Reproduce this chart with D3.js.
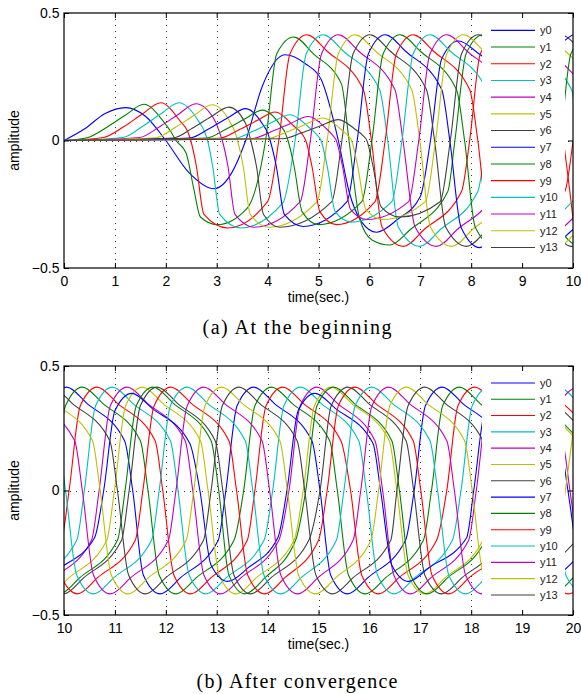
<!DOCTYPE html>
<html>
<head>
<meta charset="utf-8">
<script src="https://cdn.jsdelivr.net/npm/d3@7"></script>
<style>
  body { margin: 0; background: #fff; }
</style>
</head>
<body>
<svg id="fig" width="581" height="694" font-family="'Liberation Sans', Arial, sans-serif"></svg>
<script>
// series names, tick values
const seriesNames = ["y0","y1","y2","y3","y4","y5","y6","y7","y8","y9","y10","y11","y12","y13"];
const xTicksA = [0,1,2,3,4,5,6,7,8,9,10];
const xTicksB = [10,11,12,13,14,15,16,17,18,19,20];
const yTicks = [-0.5, 0, 0.5];

// (a) at the beginning, [time, amplitude]
const a_y0 = [[0,0],[0.4,0.045],[0.8,0.105],[1.21,0.129],[1.6,0.095],[2.0,0],[2.45,-0.125],[2.95,-0.189],[3.3,-0.125],[3.57,0],[3.9,0.215],[4.34,0.336],[4.75,0.3],[5.05,0.24],[5.39,0],[5.6,-0.2],[5.85,-0.32],[6.14,-0.36],[6.55,-0.31],[7.0,-0.22],[7.2,0],[7.42,0.32],[7.75,0.39],[8.15,0.34],[8.89,0.2],[9.05,0],[9.27,-0.34],[9.6,-0.41],[10.0,-0.35],[10.5,-0.3]];
const a_y1 = [[0,0],[0.47,0.012],[0.85,0.053],[1.21,0.1],[1.57,0.142],[1.96,0.073],[2.1,0.034],[2.2,0],[2.4,-0.05],[2.55,-0.19],[2.68,-0.3],[3.01,-0.33],[3.6,-0.265],[3.96,0],[4.18,0.34],[4.51,0.406],[4.9,0.34],[5.45,0.222],[5.6,0],[5.8,-0.3],[6.05,-0.39],[6.4,-0.41],[6.8,-0.35],[7.54,-0.2],[7.68,0],[7.9,0.34],[8.23,0.415],[8.63,0.35],[9.37,0.2],[9.53,0],[9.75,-0.34],[10.08,-0.415]];
const a_y2 = [[0,0],[0.78,0.012],[1.18,0.055],[1.54,0.104],[1.9,0.148],[2.29,0.074],[2.43,0.035],[2.49,0],[2.6,-0.1],[2.75,-0.29],[3.21,-0.343],[4.0,-0.24],[4.22,0],[4.44,0.34],[4.77,0.415],[5.17,0.35],[5.88,0.2],[6.04,0],[6.25,-0.34],[6.67,-0.415],[7.07,-0.35],[7.81,-0.2],[7.97,0],[8.18,0.34],[8.51,0.415],[8.91,0.35],[9.65,0.2],[9.81,0],[10.02,-0.34]];
const a_y3 = [[0,0],[1.16,0.012],[1.54,0.055],[1.9,0.104],[2.26,0.148],[2.65,0.074],[2.76,0.035],[2.82,0],[2.92,-0.1],[3.06,-0.29],[3.47,-0.343],[4.3,-0.245],[4.54,0],[4.76,0.34],[5.09,0.415],[5.49,0.35],[6.2,0.2],[6.36,0],[6.57,-0.34],[6.99,-0.415],[7.39,-0.35],[8.13,-0.2],[8.29,0],[8.5,0.34],[8.83,0.415],[9.23,0.35],[9.97,0.2],[10.1,0]];
const a_y4 = [[0,0],[1.49,0.012],[1.87,0.053],[2.23,0.1],[2.59,0.144],[2.98,0.072],[3.05,0.035],[3.11,0],[3.22,-0.1],[3.36,-0.29],[3.73,-0.34],[4.64,-0.24],[4.84,0],[5.06,0.34],[5.39,0.415],[5.79,0.35],[6.5,0.2],[6.66,0],[6.9,-0.34],[7.32,-0.415],[7.72,-0.35],[8.46,-0.2],[8.61,0],[8.82,0.34],[9.15,0.415],[9.55,0.35],[10.29,0.2]];
const a_y5 = [[0,0],[1.81,0.011],[2.19,0.052],[2.55,0.098],[2.91,0.14],[3.27,0.07],[3.36,0.033],[3.41,0],[3.52,-0.1],[3.66,-0.29],[4.03,-0.34],[4.97,-0.24],[5.17,0],[5.39,0.34],[5.72,0.415],[6.12,0.35],[6.83,0.2],[6.99,0],[7.2,-0.34],[7.62,-0.415],[8.02,-0.35],[8.76,-0.2],[8.91,0],[9.12,0.34],[9.45,0.415],[9.85,0.35],[10.59,0.2]];
const a_y6 = [[0,0],[2.14,0.01],[2.52,0.048],[2.88,0.092],[3.24,0.131],[3.56,0.07],[3.63,0.03],[3.67,0],[3.78,-0.1],[3.92,-0.29],[4.24,-0.34],[5.26,-0.24],[5.46,0],[5.68,0.34],[6.01,0.415],[6.41,0.35],[7.12,0.2],[7.28,0],[7.5,-0.34],[7.91,-0.415],[8.31,-0.35],[9.05,-0.2],[9.2,0],[9.42,0.34],[9.75,0.415],[10.15,0.35]];
const a_y7 = [[0,0],[2.47,0.01],[2.85,0.046],[3.21,0.088],[3.57,0.125],[3.9,0.065],[4.0,0.03],[4.05,0],[4.17,-0.1],[4.33,-0.29],[4.7,-0.337],[5.56,-0.24],[5.76,0],[5.98,0.34],[6.31,0.415],[6.71,0.35],[7.42,0.2],[7.58,0],[7.8,-0.34],[8.17,-0.42],[8.57,-0.35],[9.31,-0.2],[9.46,0],[9.67,0.34],[10.0,0.415]];
const a_y8 = [[0,0],[2.8,0.01],[3.18,0.044],[3.54,0.083],[3.9,0.119],[4.25,0.06],[4.35,0.028],[4.4,0],[4.52,-0.1],[4.68,-0.28],[5.0,-0.33],[5.85,-0.24],[6.05,0],[6.27,0.34],[6.6,0.415],[7.0,0.35],[7.71,0.2],[7.87,0],[8.08,-0.34],[8.45,-0.415],[8.85,-0.35],[9.59,-0.2],[9.75,0],[9.96,0.34],[10.3,0.415]];
const a_y9 = [[0,0],[3.05,0.009],[3.43,0.041],[3.79,0.078],[4.15,0.112],[4.52,0.056],[4.68,0.025],[4.75,0],[4.87,-0.1],[5.03,-0.28],[5.35,-0.33],[6.11,-0.24],[6.31,0],[6.53,0.34],[6.86,0.415],[7.26,0.35],[7.97,0.2],[8.13,0],[8.34,-0.34],[8.7,-0.415],[9.1,-0.35],[9.84,-0.2],[10.0,0]];
const a_y10 = [[0,0],[3.34,0.008],[3.72,0.037],[4.08,0.071],[4.44,0.101],[4.82,0.05],[4.97,0.022],[5.05,0],[5.17,-0.1],[5.33,-0.28],[5.65,-0.32],[6.44,-0.24],[6.64,0],[6.86,0.34],[7.19,0.415],[7.59,0.35],[8.3,0.2],[8.46,0],[8.67,-0.34],[9.03,-0.415],[9.43,-0.35],[10.17,-0.2]];
const a_y11 = [[0,0],[3.7,0.008],[4.08,0.035],[4.44,0.066],[4.8,0.094],[5.15,0.047],[5.28,0.02],[5.35,0],[5.47,-0.1],[5.63,-0.27],[5.95,-0.31],[6.77,-0.24],[6.97,0],[7.19,0.34],[7.52,0.415],[7.92,0.35],[8.63,0.2],[8.79,0],[9.0,-0.34],[9.36,-0.415],[9.76,-0.35],[10.5,-0.2]];
const a_y12 = [[0,0],[3.99,0.007],[4.37,0.033],[4.73,0.062],[5.09,0.088],[5.44,0.044],[5.58,0.019],[5.65,0],[5.77,-0.1],[5.93,-0.27],[6.27,-0.31],[7.1,-0.24],[7.3,0],[7.52,0.34],[7.85,0.415],[8.25,0.35],[8.96,0.2],[9.12,0],[9.33,-0.34],[9.69,-0.415],[10.09,-0.35]];
const a_y13 = [[0,0],[4.29,0.007],[4.67,0.03],[5.03,0.057],[5.39,0.082],[5.74,0.041],[5.88,0.018],[5.95,0],[6.07,-0.1],[6.23,-0.26],[6.6,-0.3],[7.39,-0.24],[7.59,0],[7.81,0.34],[8.14,0.415],[8.54,0.35],[9.25,0.2],[9.41,0],[9.62,-0.34],[9.98,-0.415],[10.38,-0.35]];

// (b) after convergence, [time, amplitude]
const b_y0 = [[8.21,-0.415],[8.61,-0.35],[9.35,-0.2],[9.51,0],[9.72,0.34],[10.05,0.415],[10.45,0.35],[11.19,0.2],[11.35,0],[11.56,-0.34],[11.89,-0.415],[12.29,-0.35],[13.03,-0.2],[13.18,0],[13.4,0.34],[13.73,0.415],[14.13,0.35],[14.87,0.2],[15.03,0],[15.24,-0.34],[15.57,-0.415],[15.97,-0.35],[16.71,-0.2],[16.88,0],[17.1,0.34],[17.43,0.415],[17.83,0.35],[18.57,0.2],[18.73,0],[18.94,-0.34],[19.27,-0.415],[19.67,-0.35],[20.41,-0.2]];
const b_y1 = [[7.97,0],[8.19,-0.34],[8.52,-0.415],[8.92,-0.35],[9.66,-0.2],[9.81,0],[10.03,0.34],[10.36,0.415],[10.76,0.35],[11.5,0.2],[11.65,0],[11.87,-0.34],[12.2,-0.415],[12.6,-0.35],[13.34,-0.2],[13.53,0],[13.75,0.34],[14.08,0.415],[14.48,0.35],[15.22,0.2],[15.37,0],[15.59,-0.34],[15.92,-0.415],[16.32,-0.35],[17.06,-0.2],[17.22,0],[17.44,0.34],[17.77,0.415],[18.17,0.35],[18.91,0.2],[19.06,0],[19.28,-0.34],[19.61,-0.415],[20.01,-0.35],[20.75,-0.2]];
const b_y2 = [[8.26,0],[8.48,-0.34],[8.81,-0.415],[9.21,-0.35],[9.95,-0.2],[10.1,0],[10.32,0.34],[10.65,0.415],[11.05,0.35],[11.79,0.2],[11.94,0],[12.16,-0.34],[12.49,-0.415],[12.89,-0.35],[13.6,-0.2],[13.75,0],[13.97,0.34],[14.3,0.415],[14.7,0.35],[15.44,0.2],[15.63,0],[15.85,-0.34],[16.18,-0.415],[16.58,-0.35],[17.32,-0.2],[17.52,0],[17.74,0.34],[18.07,0.415],[18.47,0.35],[19.21,0.2],[19.36,0],[19.58,-0.34],[19.91,-0.415],[20.31,-0.35]];
const b_y3 = [[8.56,0],[8.78,-0.34],[9.11,-0.415],[9.51,-0.35],[10.25,-0.2],[10.4,0],[10.62,0.34],[10.95,0.415],[11.35,0.35],[12.09,0.2],[12.24,0],[12.46,-0.34],[12.79,-0.415],[13.19,-0.35],[13.93,-0.2],[14.1,0],[14.32,0.34],[14.65,0.415],[15.05,0.35],[15.79,0.2],[15.94,0],[16.16,-0.34],[16.49,-0.415],[16.89,-0.35],[17.63,-0.2],[17.8,0],[18.02,0.34],[18.35,0.415],[18.75,0.35],[19.49,0.2],[19.64,0],[19.86,-0.34],[20.19,-0.415]];
const b_y4 = [[8.85,0],[9.07,-0.34],[9.4,-0.415],[9.8,-0.35],[10.54,-0.2],[10.69,0],[10.91,0.34],[11.24,0.415],[11.64,0.35],[12.38,0.2],[12.53,0],[12.75,-0.34],[13.08,-0.415],[13.48,-0.35],[14.22,-0.2],[14.42,0],[14.64,0.34],[14.97,0.415],[15.37,0.35],[16.11,0.2],[16.26,0],[16.48,-0.34],[16.81,-0.415],[17.21,-0.35],[17.95,-0.2],[18.1,0],[18.32,0.34],[18.65,0.415],[19.05,0.35],[19.79,0.2],[19.94,0],[20.16,-0.34]];
const b_y5 = [[9.15,0],[9.37,-0.34],[9.7,-0.415],[10.1,-0.35],[10.84,-0.2],[10.99,0],[11.21,0.34],[11.54,0.415],[11.94,0.35],[12.68,0.2],[12.83,0],[13.05,-0.34],[13.38,-0.415],[13.78,-0.35],[14.52,-0.2],[14.7,0],[14.92,0.34],[15.25,0.415],[15.65,0.35],[16.39,0.2],[16.54,0],[16.76,-0.34],[17.09,-0.415],[17.49,-0.35],[18.23,-0.2],[18.4,0],[18.62,0.34],[18.95,0.415],[19.35,0.35],[20.09,0.2]];
const b_y6 = [[8.15,0.415],[8.55,0.35],[9.29,0.2],[9.44,0],[9.66,-0.34],[9.99,-0.415],[10.39,-0.35],[11.13,-0.2],[11.28,0],[11.5,0.34],[11.83,0.415],[12.23,0.35],[12.97,0.2],[13.12,0],[13.34,-0.34],[13.67,-0.415],[14.07,-0.35],[14.81,-0.2],[15.03,0],[15.25,0.34],[15.58,0.415],[15.98,0.35],[16.72,0.2],[16.87,0],[17.09,-0.34],[17.42,-0.415],[17.82,-0.35],[18.56,-0.2],[18.7,0],[18.92,0.34],[19.25,0.415],[19.65,0.35],[20.39,0.2]];
const b_y7 = [[8.98,0],[9.2,-0.3],[9.53,-0.365],[9.93,-0.31],[10.6,-0.19],[10.78,0],[11.0,0.32],[11.33,0.39],[11.73,0.33],[12.47,0.19],[12.67,0],[12.89,-0.3],[13.22,-0.365],[13.62,-0.31],[14.2,-0.19],[14.38,0],[14.6,0.32],[14.93,0.39],[15.33,0.33],[16.07,0.19],[16.22,0],[16.44,-0.3],[16.77,-0.365],[17.17,-0.31],[17.91,-0.19],[18.05,0],[18.27,0.32],[18.6,0.39],[19.0,0.33],[19.74,0.19],[19.9,0],[20.1,-0.3]];
const b_y8 = [[8.07,0.415],[8.47,0.35],[9.21,0.2],[9.36,0],[9.58,-0.34],[9.91,-0.415],[10.31,-0.35],[11.05,-0.2],[11.2,0],[11.42,0.34],[11.75,0.415],[12.15,0.35],[12.89,0.2],[13.04,0],[13.24,-0.34],[13.55,-0.415],[13.95,-0.35],[14.55,-0.2],[14.75,0],[14.97,0.34],[15.3,0.415],[15.7,0.35],[16.44,0.2],[16.59,0],[16.81,-0.34],[17.14,-0.415],[17.54,-0.35],[18.28,-0.2],[18.45,0],[18.67,0.34],[19.0,0.415],[19.4,0.35],[20.14,0.2]];
const b_y9 = [[8.42,0.415],[8.82,0.35],[9.56,0.2],[9.71,0],[9.93,-0.34],[10.26,-0.415],[10.66,-0.35],[11.4,-0.2],[11.55,0],[11.77,0.34],[12.1,0.415],[12.5,0.35],[13.24,0.2],[13.39,0],[13.61,-0.34],[13.94,-0.415],[14.34,-0.35],[15.0,-0.2],[15.17,0],[15.39,0.34],[15.72,0.415],[16.12,0.35],[16.86,0.2],[17.01,0],[17.23,-0.34],[17.56,-0.415],[17.96,-0.35],[18.7,-0.2],[18.85,0],[19.07,0.34],[19.4,0.415],[19.8,0.35],[20.54,0.2]];
const b_y10 = [[8.74,0.415],[9.14,0.35],[9.88,0.2],[10.03,0],[10.25,-0.34],[10.58,-0.415],[10.98,-0.35],[11.72,-0.2],[11.87,0],[12.09,0.34],[12.42,0.415],[12.82,0.35],[13.56,0.2],[13.71,0],[13.93,-0.34],[14.26,-0.415],[14.66,-0.35],[15.35,-0.2],[15.5,0],[15.72,0.34],[16.05,0.415],[16.45,0.35],[17.19,0.2],[17.34,0],[17.56,-0.34],[17.89,-0.415],[18.29,-0.35],[19.03,-0.2],[19.15,0],[19.37,0.34],[19.7,0.415],[20.1,0.35]];
const b_y11 = [[8.52,0],[8.74,0.34],[9.07,0.415],[9.47,0.35],[10.21,0.2],[10.36,0],[10.58,-0.34],[10.91,-0.415],[11.31,-0.35],[12.05,-0.2],[12.2,0],[12.42,0.34],[12.75,0.415],[13.15,0.35],[13.89,0.2],[14.04,0],[14.26,-0.34],[14.59,-0.415],[14.99,-0.35],[15.68,-0.2],[15.83,0],[16.05,0.34],[16.38,0.415],[16.78,0.35],[17.52,0.2],[17.67,0],[17.89,-0.34],[18.22,-0.415],[18.62,-0.35],[19.36,-0.2],[19.5,0],[19.72,0.34],[20.05,0.415]];
const b_y12 = [[8.87,0],[9.09,0.34],[9.42,0.415],[9.82,0.35],[10.56,0.2],[10.71,0],[10.93,-0.34],[11.26,-0.415],[11.66,-0.35],[12.4,-0.2],[12.55,0],[12.77,0.34],[13.1,0.415],[13.5,0.35],[14.24,0.2],[14.39,0],[14.61,-0.34],[14.94,-0.415],[15.34,-0.35],[16.03,-0.2],[16.18,0],[16.4,0.34],[16.73,0.415],[17.13,0.35],[17.87,0.2],[18.02,0],[18.24,-0.34],[18.57,-0.415],[18.97,-0.35],[19.71,-0.2],[19.85,0],[20.07,0.34]];
const b_y13 = [[9.21,0],[9.43,0.34],[9.76,0.415],[10.16,0.35],[10.9,0.2],[11.05,0],[11.27,-0.34],[11.6,-0.415],[12.0,-0.35],[12.74,-0.2],[12.89,0],[13.11,0.34],[13.44,0.415],[13.84,0.35],[14.58,0.2],[14.73,0],[14.95,-0.34],[15.28,-0.415],[15.68,-0.35],[16.42,-0.2],[16.54,0],[16.76,0.34],[17.09,0.415],[17.49,0.35],[18.23,0.2],[18.38,0],[18.6,-0.34],[18.93,-0.415],[19.33,-0.35],[20.07,-0.2]];

const seriesA = [a_y0,a_y1,a_y2,a_y3,a_y4,a_y5,a_y6,a_y7,a_y8,a_y9,a_y10,a_y11,a_y12,a_y13];
const seriesB = [b_y0,b_y1,b_y2,b_y3,b_y4,b_y5,b_y6,b_y7,b_y8,b_y9,b_y10,b_y11,b_y12,b_y13];

// matlab default line colours, cycling
const palette = ["#0000ff","#008000","#ff0000","#00bfbf","#bf00bf","#bfbf00","#404040"];
const color = (i) => palette[i % palette.length];

const svg = d3.select("#fig");
const left = 64, right = 573;

function drawPanel(cfg) {
  const x = d3.scaleLinear().domain([cfg.xTicks[0], cfg.xTicks[cfg.xTicks.length - 1]]).range([left, right]);
  const y = d3.scaleLinear().domain([-0.5, 0.5]).range([cfg.bottom, cfg.top]);
  const h = cfg.bottom - cfg.top;
  const g = svg.append("g");

  g.append("clipPath").attr("id", cfg.id + "-clip")
    .append("rect").attr("x", left).attr("y", cfg.top).attr("width", right - left).attr("height", h);

  // dotted grid
  const grid = g.append("g").attr("stroke", "#333").attr("stroke-width", 1).attr("stroke-dasharray", "1,5");
  grid.selectAll("line.v").data(cfg.xTicks.slice(1, -1)).join("line")
    .attr("x1", d => Math.round(x(d)) + 0.5).attr("x2", d => Math.round(x(d)) + 0.5)
    .attr("y1", cfg.top).attr("y2", cfg.bottom);
  grid.append("line")
    .attr("x1", left).attr("x2", right)
    .attr("y1", Math.round(y(0)) + 0.5).attr("y2", Math.round(y(0)) + 0.5);

  const line = d3.line()
    .x(d => x(d[0]))
    .y(d => y(d[1]))
    .curve(d3.curveMonotoneX);

  g.append("g").attr("clip-path", `url(#${cfg.id}-clip)`)
    .selectAll("path").data(cfg.series).join("path")
    .attr("fill", "none")
    .attr("stroke", (d, i) => color(i))
    .attr("stroke-width", 1.1)
    .attr("stroke-linejoin", "round")
    .attr("d", line);

  // legend (white box, no border)
  g.append("rect")
    .attr("x", 482).attr("y", cfg.top + 3)
    .attr("width", 83).attr("height", h - 6)
    .attr("fill", "#fff");
  const step = h * 0.0655;
  const leg = g.append("g").selectAll("g").data(seriesNames).join("g")
    .attr("transform", (d, i) => `translate(0,${cfg.top + h * 0.068 + i * step})`);
  leg.append("line")
    .attr("x1", 491).attr("x2", 535)
    .attr("stroke", (d, i) => color(i)).attr("stroke-width", 1.1);
  leg.append("text")
    .attr("x", 540).attr("dy", "0.35em")
    .attr("font-size", 11).attr("fill", "#222")
    .text(d => d);

  // axes, ticks pointing inwards
  const xAxis = d3.axisBottom(x).tickValues(cfg.xTicks).tickSizeInner(-5).tickSizeOuter(0).tickPadding(8.5);
  g.append("g").attr("transform", `translate(0,${cfg.bottom})`).call(xAxis);
  g.append("g").attr("transform", `translate(0,${cfg.top})`)
    .call(d3.axisTop(x).tickValues(cfg.xTicks).tickSizeInner(-5).tickSizeOuter(0).tickFormat(""));
  g.append("g").attr("transform", `translate(${left},0)`)
    .call(d3.axisLeft(y).tickValues(yTicks).tickSizeInner(-5).tickSizeOuter(0).tickPadding(4.5).tickFormat(d3.format("")));
  g.append("g").attr("transform", `translate(${right},0)`)
    .call(d3.axisRight(y).tickValues(yTicks).tickSizeInner(-5).tickSizeOuter(0).tickFormat(""));
  g.selectAll(".domain").remove();
  g.selectAll(".tick line").attr("stroke", "#000").attr("stroke-width", 1);
  g.selectAll(".tick text").attr("font-size", 14).attr("fill", "#000")
    .attr("font-family", "'Liberation Sans', Arial, sans-serif");

  g.append("rect")
    .attr("x", left).attr("y", cfg.top)
    .attr("width", right - left).attr("height", h)
    .attr("fill", "none").attr("stroke", "#000").attr("stroke-width", 1.2);

  // axis labels
  g.append("text")
    .attr("x", (left + right) / 2).attr("y", cfg.bottom + 34)
    .attr("text-anchor", "middle").attr("font-size", 14)
    .text("time(sec.)");
  g.append("text")
    .attr("transform", `translate(19,${(cfg.top + cfg.bottom) / 2}) rotate(-90)`)
    .attr("text-anchor", "middle").attr("font-size", 14)
    .text("amplitude");

  // caption
  g.append("text")
    .attr("x", 297).attr("y", cfg.captionY)
    .attr("text-anchor", "middle")
    .style("font-family", "'Liberation Serif', 'Times New Roman', serif")
    .attr("font-size", 20)
    .attr("textLength", cfg.captionWidth).attr("lengthAdjust", "spacing")
    .text(cfg.caption);
}

drawPanel({ id: "pa", top: 13, bottom: 268, xTicks: xTicksA, series: seriesA,
  caption: "(a) At the beginning", captionY: 334, captionWidth: 189 });
drawPanel({ id: "pb", top: 366, bottom: 615, xTicks: xTicksB, series: seriesB,
  caption: "(b) After convergence", captionY: 688, captionWidth: 201 });
</script>
</body>
</html>
